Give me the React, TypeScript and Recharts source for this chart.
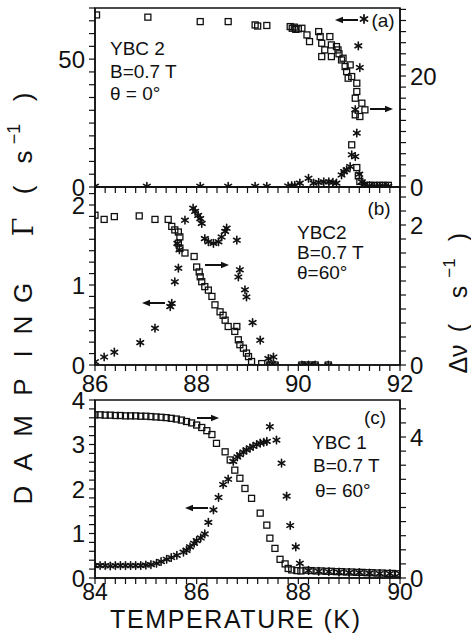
import React from 'react';
import { ScatterChart, Scatter, XAxis, YAxis, ReferenceArea } from 'recharts';

const FONT = '"Liberation Sans", Arial, sans-serif';
const INK = '#111';

// ---------- Panel (a): YBC2, theta = 0 deg ----------
const aSquareT = [86.03, 87.04, 88.07, 88.62, 89.15, 89.2, 89.38, 89.84, 89.88, 89.92, 89.95, 90.0, 90.07, 90.17, 90.22, 90.4, 90.43, 90.46, 90.52, 90.46, 90.62, 90.65, 90.65, 90.75, 90.78, 90.8, 90.85, 90.88, 90.92, 90.95, 90.98, 91.02, 91.05, 91.15, 91.15, 91.12, 91.25, 91.31, 91.12, 91.21, 91.05, 91.15, 91.18, 91.21, 91.3, 91.41, 91.5, 91.6, 91.67, 91.77];
const aSquareV = [31.0, 30.6, 29.8, 29.8, 29.2, 29.0, 29.1, 28.9, 28.6, 28.8, 28.4, 28.5, 28.6, 27.4, 26.2, 28.0, 27.1, 25.9, 24.7, 23.5, 27.1, 25.6, 23.5, 25.3, 24.7, 24.0, 22.9, 23.2, 21.7, 20.8, 19.6, 22.0, 19.9, 18.7, 17.2, 16.0, 15.1, 13.9, 13.0, 12.7, 7.6, 3.5, 2.0, 1.0, 0.3, 0.3, 0.3, 0.3, 0.3, 0.3];
const aStarT = [86.0, 87.02, 88.07, 88.62, 89.15, 89.38, 89.8, 89.87, 89.93, 90.03, 90.2, 90.3, 90.4, 90.5, 90.6, 90.68, 90.75, 90.85, 90.9, 90.95, 91.02, 91.05, 91.12, 91.15, 91.12, 91.21, 91.18, 91.2, 91.25, 91.3, 91.4, 91.5, 91.6, 91.7, 91.77];
const aStarG = [0.3, 0.3, 0.3, 0.3, 0.3, 0.3, 0.4, 0.5, 0.6, 1.5, 3.4, 1.5, 1.8, 2.0, 2.0, 1.8, 1.5, 4.7, 6.0, 6.7, 8.0, 12.6, 11.9, 21.1, 30.3, 46.7, 55.2, 5.0, 2.0, 1.0, 0.5, 0.3, 0.3, 0.3, 0.3];

// ---------- Panel (b): YBC2, theta = 60 deg ----------
const bSquareT = [86.0, 86.18, 86.38, 86.87, 87.18, 87.44, 87.51, 87.57, 87.64, 87.67, 87.64, 87.67, 87.77, 87.95, 88.0, 88.05, 88.07, 88.1, 88.16, 88.23, 88.3, 88.36, 88.46, 88.52, 88.56, 88.62, 88.79, 88.75, 88.82, 88.85, 88.92, 88.98, 89.02, 89.08, 89.28, 89.44, 89.54, 90.07, 90.15, 90.25, 90.33, 90.59];
const bSquareV = [2.14, 2.08, 2.12, 2.13, 2.08, 2.08, 1.98, 1.93, 1.9, 1.83, 1.74, 1.67, 1.6, 1.55, 1.4, 1.33, 1.26, 1.19, 1.12, 1.07, 0.98, 0.86, 0.76, 0.71, 0.64, 0.55, 0.55, 0.48, 0.36, 0.29, 0.24, 0.17, 0.12, 0.05, 0.02, 0.0, 0.0, 0.0, 0.0, 0.0, 0.0, 0.0];
const bStarT = [86.0, 86.18, 86.38, 86.89, 87.18, 87.48, 87.51, 87.57, 87.64, 87.62, 87.66, 87.77, 87.93, 87.97, 88.03, 88.07, 88.1, 88.16, 88.23, 88.33, 88.43, 88.49, 88.56, 88.59, 88.79, 88.82, 88.85, 88.95, 88.98, 89.1, 89.25, 89.41, 89.51, 89.44, 89.54, 90.07, 90.2, 90.33, 90.59];
const bStarG = [0.04, 0.1, 0.16, 0.28, 0.46, 0.73, 0.77, 1.04, 1.21, 1.52, 1.44, 1.81, 1.96, 1.92, 1.87, 1.83, 1.77, 1.58, 1.54, 1.52, 1.54, 1.6, 1.67, 1.71, 1.56, 1.1, 1.19, 0.94, 0.85, 0.53, 0.31, 0.08, 0.1, 0.0, 0.0, 0.0, 0.0, 0.0, 0.0];

// ---------- Panel (c): YBC1, theta = 60 deg ----------
const cSquareT = [84.0, 84.1, 84.2, 84.3, 84.4, 84.5, 84.6, 84.7, 84.8, 84.9, 85.0, 85.1, 85.2, 85.3, 85.4, 85.5, 85.6, 85.7, 85.8, 85.9, 86.0, 86.1, 86.2, 86.3, 86.39, 86.56, 86.66, 86.75, 86.85, 86.95, 87.08, 87.25, 87.38, 87.44, 87.54, 87.64, 87.74, 87.8, 87.87, 87.97, 88.05, 88.15, 88.25, 88.35, 88.45, 88.55, 88.65, 88.75, 88.85, 88.95, 89.05, 89.15, 89.25, 89.35, 89.45, 89.55, 89.65, 89.75, 89.85, 89.95];
const cSquareV = [4.63, 4.63, 4.62, 4.62, 4.61, 4.61, 4.6, 4.6, 4.6, 4.59, 4.59, 4.58, 4.57, 4.56, 4.55, 4.53, 4.51, 4.48, 4.44, 4.4, 4.34, 4.27, 4.18, 4.07, 3.82, 3.58, 3.35, 3.06, 2.83, 2.54, 2.26, 1.84, 1.5, 1.13, 0.84, 0.53, 0.4, 0.27, 0.23, 0.21, 0.2, 0.22, 0.21, 0.2, 0.2, 0.19, 0.19, 0.18, 0.18, 0.17, 0.17, 0.16, 0.16, 0.15, 0.15, 0.14, 0.14, 0.13, 0.13, 0.12];
const cStarT = [84.0, 84.1, 84.2, 84.3, 84.4, 84.5, 84.6, 84.7, 84.8, 84.9, 85.0, 85.1, 85.21, 85.3, 85.41, 85.5, 85.61, 85.74, 85.8, 85.87, 85.95, 86.0, 86.08, 86.16, 86.23, 86.33, 86.43, 86.52, 86.62, 86.72, 86.8, 86.85, 86.92, 86.98, 87.05, 87.11, 87.18, 87.25, 87.32, 87.38, 87.44, 87.57, 87.67, 87.77, 87.84, 87.95, 88.03, 88.2, 88.4, 88.6, 88.8, 89.0, 89.2, 89.4, 89.6, 89.8, 90.0];
const cStarG = [0.28, 0.28, 0.28, 0.27, 0.28, 0.28, 0.28, 0.28, 0.28, 0.28, 0.29, 0.3, 0.33, 0.37, 0.42, 0.46, 0.51, 0.58, 0.62, 0.7, 0.78, 0.84, 0.9, 0.99, 1.25, 1.53, 1.81, 2.1, 2.22, 2.62, 2.72, 2.77, 2.83, 2.88, 2.92, 2.96, 3.0, 3.03, 3.05, 3.07, 3.4, 3.1, 2.58, 1.84, 1.18, 0.7, 0.33, 0.17, 0.15, 0.14, 0.13, 0.12, 0.12, 0.11, 0.1, 0.1, 0.1];

// ---------- Axis tick labels ----------
const abXMajors = [86, 88, 90, 92];
const cXMajors = [84, 86, 88, 90];
const aLeftMajors = [0, 50];
const aRightMajors = [0, 20];
const bLeftMajors = [0, 1, 2];
const bRightMajors = [0, 2];
const cLeftMajors = [0, 1, 2, 3, 4];
const cRightMajors = [0, 4];

const range = (start: number, end: number, step: number) => {
  const out: number[] = [];
  const n = Math.round((end - start) / step);
  for (let i = 0; i <= n; i++) out.push(+(start + i * step).toFixed(6));
  return out;
};

const zip = (xs: number[], ys: number[]) => xs.map((x, i) => ({ x, y: ys[i] }));

const fmt = (majors: number[]) => (v: number) => {
  const m = majors.find((mm) => Math.abs(mm - v) < 1e-6);
  return m === undefined ? '' : String(m);
};

const Square = (props: any) => {
  const { cx, cy } = props;
  if (cx == null || cy == null) return null;
  return <rect x={cx - 3} y={cy - 3} width={6} height={6} fill="none" stroke={INK} strokeWidth={1.3} />;
};

const StarShape = ({ cx, cy, r = 3.8, w = 1.6 }: any) => {
  if (cx == null || cy == null) return null;
  const dx = r * 0.866;
  const dy = r * 0.5;
  return (
    <g stroke={INK} strokeWidth={w} strokeLinecap="round">
      <line x1={cx} y1={cy - r} x2={cx} y2={cy + r} />
      <line x1={cx - dx} y1={cy - dy} x2={cx + dx} y2={cy + dy} />
      <line x1={cx - dx} y1={cy + dy} x2={cx + dx} y2={cy - dy} />
    </g>
  );
};
const Star = (props: any) => <StarShape cx={props.cx} cy={props.cy} />;

const axisLine = { stroke: INK, strokeWidth: 1.5 };
const tickLine = { stroke: INK, strokeWidth: 1.2 };
const tickStyle = { fill: INK, fontSize: 24, fontFamily: FONT };

type PanelProps = {
  top: number;
  height: number;
  marginTop: number;
  xAxisHeight: number;
  tickMargin: number;
  tickFont: number;
  xDomain: [number, number];
  xTicks: number[];
  xMajors: number[];
  lDomain: [number, number];
  lTicks: number[];
  lMajors: number[];
  rDomain: [number, number];
  rTicks: number[];
  rMajors: number[];
  squares: { x: number; y: number }[];
  stars: { x: number; y: number }[];
};

function Panel(p: PanelProps) {
  return (
    <div style={{ position: 'absolute', left: 0, top: p.top }}>
      <ScatterChart width={471} height={p.height} margin={{ top: p.marginTop, right: 0, bottom: 0, left: 0 }}>
        <XAxis
          type="number"
          dataKey="x"
          domain={p.xDomain}
          ticks={p.xTicks}
          interval={0}
          tickFormatter={fmt(p.xMajors)}
          height={p.xAxisHeight}
          axisLine={axisLine}
          tickLine={tickLine}
          tickSize={6}
          tickMargin={p.tickMargin}
          tick={{ ...tickStyle, fontSize: p.tickFont }}
          allowDataOverflow
        />
        <YAxis
          yAxisId="L"
          type="number"
          dataKey="y"
          domain={p.lDomain}
          ticks={p.lTicks}
          interval={0}
          tickFormatter={fmt(p.lMajors)}
          width={95}
          axisLine={axisLine}
          tickLine={tickLine}
          tickSize={6}
          tickMargin={4}
          tick={tickStyle}
          allowDataOverflow
        />
        <YAxis
          yAxisId="R"
          orientation="right"
          type="number"
          dataKey="y"
          domain={p.rDomain}
          ticks={p.rTicks}
          interval={0}
          tickFormatter={fmt(p.rMajors)}
          width={71}
          axisLine={axisLine}
          tickLine={tickLine}
          tickSize={6}
          tickMargin={4}
          tick={tickStyle}
          allowDataOverflow
        />
        <ReferenceArea
          yAxisId="L"
          x1={p.xDomain[0]}
          x2={p.xDomain[1]}
          y1={p.lDomain[0]}
          y2={p.lDomain[1]}
          fill="none"
          stroke={INK}
          strokeWidth={1.5}
          ifOverflow="visible"
        />
        <Scatter yAxisId="R" data={p.squares} shape={Square} isAnimationActive={false} />
        <Scatter yAxisId="L" data={p.stars} shape={Star} isAnimationActive={false} />
      </ScatterChart>
    </div>
  );
}

const Arrow = ({ x1, x2, y }: { x1: number; x2: number; y: number }) => {
  const dir = x2 > x1 ? 1 : -1;
  const hl = 8;
  return (
    <g>
      <line x1={x1} y1={y} x2={x2 - dir * hl} y2={y} stroke={INK} strokeWidth={2} />
      <polygon points={`${x2},${y} ${x2 - dir * hl},${y - 3.2} ${x2 - dir * hl},${y + 3.2}`} fill={INK} />
    </g>
  );
};

const noteStyle: React.CSSProperties = { fontFamily: FONT, fontSize: 19, fill: INK };

function Overlay() {
  const leftGlyphs: [string, number][] = [
    ['D', 495], ['A', 462], ['M', 426], ['P', 387], ['I', 354], ['N', 325], ['G', 293],
  ];
  return (
    <svg width={471} height={633} style={{ position: 'absolute', left: 0, top: 0, pointerEvents: 'none' }}>
      <g transform="translate(23,0) rotate(-90)" fontFamily={FONT} fill={INK}>
        {leftGlyphs.map(([g, yc]) => (
          <text key={g + yc} x={-yc} y={0} fontSize={26} textAnchor="middle" dy="0.36em">{g}</text>
        ))}
        <text x={-227} y={0} fontSize={27} textAnchor="middle" dy="0.36em" fontFamily='"DejaVu Serif", serif'>Γ</text>
        <text x={-190} y={0} fontSize={26} textAnchor="middle" dy="0.36em">(</text>
        <text x={-157} y={0} fontSize={26} textAnchor="middle" dy="0.36em">s</text>
        <text x={-134} y={-9} fontSize={18} textAnchor="middle" dy="0.36em">−1</text>
        <text x={-97} y={0} fontSize={26} textAnchor="middle" dy="0.36em">)</text>
      </g>
      <g transform="translate(458,0) rotate(-90)" fontFamily={FONT} fill={INK}>
        <text x={-359} y={0} fontSize={25} textAnchor="middle" dy="0.36em">Δν</text>
        <text x={-328} y={0} fontSize={25} textAnchor="middle" dy="0.36em">(</text>
        <text x={-292} y={0} fontSize={25} textAnchor="middle" dy="0.36em">s</text>
        <text x={-268} y={-9} fontSize={17} textAnchor="middle" dy="0.36em">−1</text>
        <text x={-237} y={0} fontSize={25} textAnchor="middle" dy="0.36em">)</text>
      </g>
      <text x={235} y={619} fontFamily={FONT} fontSize={25} fill={INK} textAnchor="middle" dominantBaseline="central" textLength={250} lengthAdjust="spacing">TEMPERATURE (K)</text>

      <text x={110} y={48} style={noteStyle} dominantBaseline="central">YBC 2</text>
      <text x={110} y={71} style={noteStyle} dominantBaseline="central">B=0.7 T</text>
      <text x={110} y={93} style={noteStyle} dominantBaseline="central">θ = 0°</text>
      <Arrow x1={358} x2={335} y={20} />
      <StarShape cx={364} cy={19} r={4} w={1.8} />
      <text x={383} y={20} style={noteStyle} textAnchor="middle" dominantBaseline="central">(a)</text>
      <Arrow x1={370} x2={393} y={109} />

      <text x={379} y={208} style={noteStyle} textAnchor="middle" dominantBaseline="central">(b)</text>
      <text x={297} y={232} style={noteStyle} dominantBaseline="central">YBC2</text>
      <text x={297} y={252} style={noteStyle} dominantBaseline="central">B=0.7 T</text>
      <text x={297} y={272} style={noteStyle} dominantBaseline="central">θ=60°</text>
      <Arrow x1={205} x2={229} y={265} />
      <Arrow x1={165} x2={142} y={303} />

      <text x={375} y={417} style={noteStyle} textAnchor="middle" dominantBaseline="central">(c)</text>
      <text x={312} y={442} style={noteStyle} dominantBaseline="central">YBC 1</text>
      <text x={313} y={465} style={noteStyle} dominantBaseline="central">B=0.7 T</text>
      <text x={315} y={490} style={noteStyle} dominantBaseline="central">θ= 60°</text>
      <Arrow x1={197} x2={219} y={418} />
      <Arrow x1={208} x2={185} y={508} />
    </svg>
  );
}

export default function App() {
  const abXTicks = range(86, 92, 0.2);
  const cXTicks = range(84, 90, 0.2);
  return (
    <div style={{ position: 'absolute', left: 0, top: 0, width: 471, height: 633, background: '#fff', overflow: 'hidden' }}>
      <Panel
        top={0}
        height={207}
        marginTop={8}
        xAxisHeight={20}
        tickMargin={4}
        tickFont={24}
        xDomain={[86, 92]}
        xTicks={abXTicks}
        xMajors={[]}
        lDomain={[0, 70]}
        lTicks={range(0, 70, 5)}
        lMajors={aLeftMajors}
        rDomain={[0, 32.25]}
        rTicks={range(0, 32, 2)}
        rMajors={aRightMajors}
        squares={zip(aSquareT, aSquareV)}
        stars={zip(aStarT, aStarG)}
      />
      <Panel
        top={172}
        height={227}
        marginTop={15}
        xAxisHeight={34}
        tickMargin={4}
        tickFont={24}
        xDomain={[86, 92]}
        xTicks={abXTicks}
        xMajors={abXMajors}
        lDomain={[0, 2.225]}
        lTicks={range(0, 15, 1).map((k) => +(k / 7).toFixed(6))}
        lMajors={bLeftMajors}
        rDomain={[0, 2.543]}
        rTicks={range(0, 2.4, 0.2)}
        rMajors={bRightMajors}
        squares={zip(bSquareT, bSquareV)}
        stars={zip(bStarT, bStarG)}
      />
      <Panel
        top={380}
        height={233}
        marginTop={20}
        xAxisHeight={35}
        tickMargin={0}
        tickFont={23}
        xDomain={[84, 90]}
        xTicks={cXTicks}
        xMajors={cXMajors}
        lDomain={[0, 4]}
        lTicks={range(0, 4, 0.2)}
        lMajors={cLeftMajors}
        rDomain={[0, 5.05]}
        rTicks={range(0, 4.8, 0.4)}
        rMajors={cRightMajors}
        squares={zip(cSquareT, cSquareV)}
        stars={zip(cStarT, cStarG)}
      />
      <Overlay />
    </div>
  );
}
